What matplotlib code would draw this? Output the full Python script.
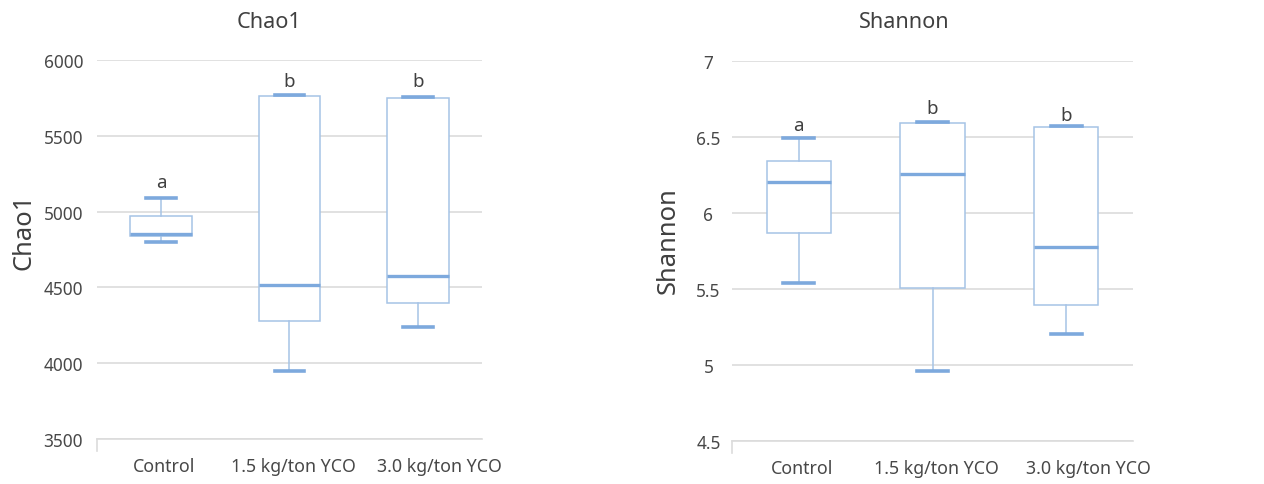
import matplotlib
matplotlib.use("Agg")
import matplotlib.pyplot as plt
from matplotlib import font_manager
from matplotlib.transforms import ScaledTranslation

# ---------------- data ----------------
groups = ["Control", "1.5 kg/ton YCO", "3.0 kg/ton YCO"]

chao1_whislo = [4802, 3951, 4241]
chao1_q1 = [4837, 4280, 4395]
chao1_med = [4854, 4516, 4577]
chao1_q3 = [4973, 5763, 5747]
chao1_whishi = [5092, 5769, 5754]
chao1_letters = ["a", "b", "b"]
chao1_letter_y = [5195, 5860, 5860]
chao1_ticks = [3500, 4000, 4500, 5000, 5500, 6000]

shannon_whislo = [5.535, 4.96, 5.204]
shannon_q1 = [5.864, 5.505, 5.395]
shannon_med = [6.202, 6.255, 5.772]
shannon_q3 = [6.342, 6.588, 6.562]
shannon_whishi = [6.49, 6.595, 6.568]
shannon_letters = ["a", "b", "b"]
shannon_letter_y = [6.575, 6.69, 6.645]
shannon_ticks = [4.5, 5, 5.5, 6, 6.5, 7]
shannon_ticklabels = ["4.5", "5", "5.5", "6", "6.5", "7"]

# ---------------- style ----------------
def pick_font():
    for f in ["Noto Sans", "Open Sans"]:
        try:
            font_manager.findfont(f, fallback_to_default=False)
            return f
        except Exception:
            pass
    return "DejaVu Sans"

FONT = pick_font()
plt.rcParams["font.family"] = [FONT, "DejaVu Sans"]

TXT = "#484848"
BOX = "#A6C3E6"
MED = "#7DA9DD"
GRID = "#DCDCDC"

fig = plt.figure(figsize=(12.64, 4.85), dpi=100)
label_shift_px = [3, 4, 22]

def make_panel(rect, lo, q1, med, q3, hi, letters, letter_y, ticks, ticklabels,
               ylim, title, title_xy, ylabel_xy, tick_ha, ypad):
    ax = fig.add_axes(rect)
    stats = []
    for i in range(len(groups)):
        stats.append(dict(whislo=lo[i], q1=q1[i], med=med[i], q3=q3[i],
                          whishi=hi[i], fliers=[], label=groups[i]))
    ax.bxp(stats, positions=[1, 2, 3], widths=0.48, capwidths=0.23,
           showfliers=False, patch_artist=True,
           boxprops=dict(facecolor="white", edgecolor=BOX, linewidth=1.1),
           whiskerprops=dict(color=BOX, linewidth=1.1),
           capprops=dict(color=MED, linewidth=2.6),
           medianprops=dict(color=MED, linewidth=2.4),
           zorder=3)
    ax.set_xlim(0.5, 3.5)
    ax.set_ylim(*ylim)
    ax.set_yticks(ticks)
    ax.set_yticklabels(ticklabels, fontsize=12.4, color=TXT, ha=tick_ha)
    ax.tick_params(axis="y", length=0, pad=ypad)
    ax.set_xticks([1, 2, 3])
    ax.set_xticklabels(groups, fontsize=12.8, color=TXT)
    ax.tick_params(axis="x", length=0, pad=13)
    for lab, dx in zip(ax.get_xticklabels(), label_shift_px):
        lab.set_transform(lab.get_transform() +
                          ScaledTranslation(dx / 100, 0, fig.dpi_scale_trans))
    ax.grid(axis="y", color=GRID, linewidth=1.2, zorder=0)
    ax.set_axisbelow(True)
    for s in ["top", "right", "left"]:
        ax.spines[s].set_visible(False)
    ax.spines["bottom"].set_color(GRID)
    ax.spines["bottom"].set_linewidth(1.2)
    # single left tick mark of the category axis
    ax.plot([0.5, 0.5], [0, -0.032], transform=ax.get_xaxis_transform(),
            color=GRID, linewidth=1.2, clip_on=False)
    for i, (t, yy) in enumerate(zip(letters, letter_y)):
        ax.text(i + 1, yy, t, ha="center", va="center", fontsize=13.5,
                color="#404040")
    fig.text(title_xy[0], title_xy[1], title, ha="center", va="center",
             fontsize=15.6, color="#404040")
    fig.text(ylabel_xy[0], ylabel_xy[1], title, ha="center", va="center",
             rotation=90, fontsize=18.4, color="#404040")
    return ax

make_panel([0.0767, 0.0928, 0.3046, 0.7814],
           chao1_whislo, chao1_q1, chao1_med, chao1_q3, chao1_whishi,
           chao1_letters, chao1_letter_y, chao1_ticks,
           [str(t) for t in chao1_ticks], (3500, 6000),
           "Chao1", (0.2128, 0.9546), (0.0190, 0.5216), "right", 10)

make_panel([0.5791, 0.0893, 0.3173, 0.7835],
           shannon_whislo, shannon_q1, shannon_med, shannon_q3, shannon_whishi,
           shannon_letters, shannon_letter_y, shannon_ticks,
           shannon_ticklabels, (4.5, 7),
           "Shannon", (0.7152, 0.9546), (0.5290, 0.505), "center", 17)

fig.savefig("out.png", dpi=100)
